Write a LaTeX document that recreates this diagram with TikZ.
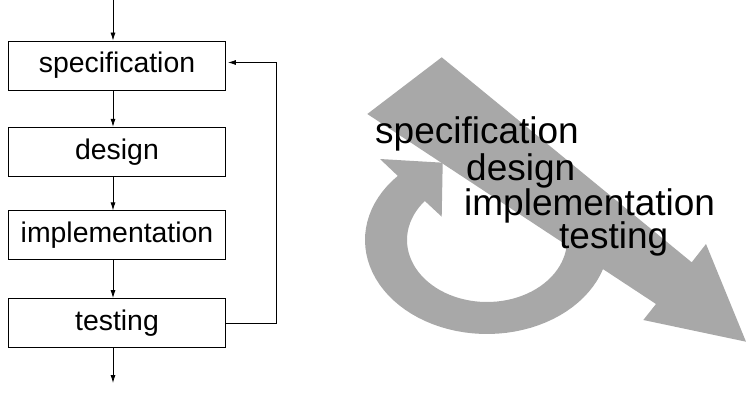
\documentclass[tikz,border=0pt]{standalone}
\usepackage{fontspec}
\setmainfont{Liberation Sans}
\usetikzlibrary{arrows.meta}
\definecolor{flowgray}{RGB}{168,168,168}
\tikzset{
  stage/.style={draw, line width=0.8pt, minimum width=217pt, minimum height=49pt,
                inner sep=0pt, font=\fontsize{28.4}{30}\selectfont},
  flow/.style={line width=0.8pt, -{Latex[length=8pt,width=5pt]}},
  bigword/.style={anchor=base west, inner sep=0pt, font=\fontsize{37}{38}\selectfont},
}
\begin{document}
\begin{tikzpicture}[x=1pt, y=-1pt]
  \useasboundingbox (0,0) rectangle (746,393);

  % --- waterfall boxes ---
  \node[stage] (spec)   at (117,65.5)  {specification};
  \node[stage] (design) at (117,151.7) {design};
  \node[stage] (impl)   at (117,235.3) {implementation};
  \node[stage] (test)   at (117,323)   {testing};
  \coordinate (in)  at (113,0);
  \coordinate (out) at (113,383);
  \coordinate (back) at (276,0);
  \coordinate (specin) at ([yshift=3pt,xshift=2pt]spec.east);

  \draw[flow] (in) -- (in |- spec.north);
  \draw[flow] ([xshift=-4pt]spec.south)   -- ([xshift=-4pt]design.north);
  \draw[flow] ([xshift=-4pt]design.south) -- ([xshift=-4pt]impl.north);
  \draw[flow] ([xshift=-4pt]impl.south)   -- ([xshift=-4pt]test.north);
  \draw[flow] ([xshift=-4pt]test.south)   -- (out);
  \draw[flow] (test.east) -- (back |- test.east) -- (back |- specin) -- (specin);

  % --- iteration loop (elliptic ring with head) ---
  \fill[flowgray]
    plot[domain=-10:223, samples=60] ({487+122*cos(\x)}, {240+94*sin(\x)})
    -- (380,159) -- (442.7,162.7) -- (441.7,216.7)
    -- plot[domain=219:-10, samples=60] ({487+80*cos(\x)}, {240+62*sin(\x)})
    -- cycle;

  % --- overall progress arrow ---
  \fill[flowgray] (367.3,114) -- (441.7,57.3) -- (691.7,262.3) -- (706,244)
    -- (746,341.7) -- (643.3,320) -- (656,304) -- cycle;

  % --- phase words ---
  \node[bigword] (w1) at (375,143.5) {specification};
  \node[bigword] (w2) at (466,180)   {design};
  \node[bigword] (w3) at (464,215)   {implementation};
  \node[bigword] (w4) at (559,248)   {testing};
\end{tikzpicture}
\end{document}
